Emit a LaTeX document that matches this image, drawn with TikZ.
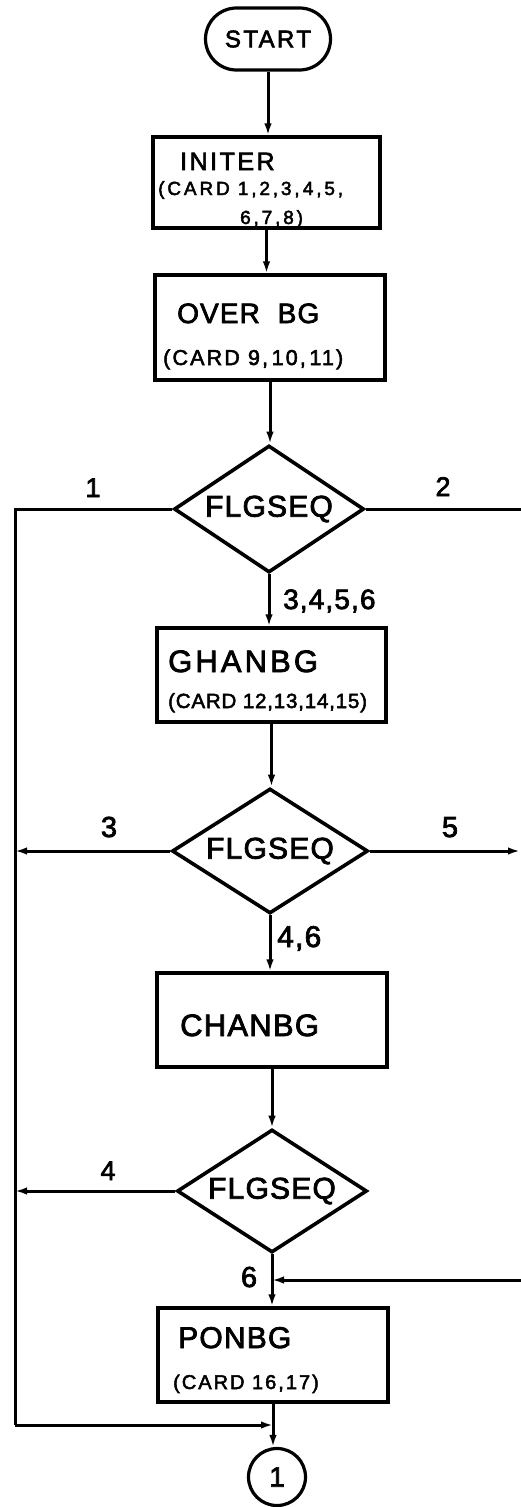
\documentclass[tikz,border=0pt]{standalone}
\usepackage{fontspec}
\setmainfont{Liberation Sans}
\newfontfamily\spc[LetterSpace=10,FakeBold=2.5]{Liberation Sans}
\newfontfamily\spd[LetterSpace=15,FakeBold=2.5]{Liberation Sans}
\newfontfamily\spb[LetterSpace=4,FakeBold=2.5]{Liberation Sans}
\usetikzlibrary{shapes.geometric,arrows.meta,calc}
\newcommand\myfs[1]{\fontsize{#1}{#1}\selectfont}
\begin{document}
\begin{tikzpicture}[x=1pt,y=-1pt,
  conn/.style={line width=3pt,-{Latex[length=12pt,width=7.5pt]}},
  plain/.style={line width=3pt},
  box/.style={draw,line width=3.3pt,inner sep=0pt,minimum width=230pt,minimum height=94pt},
  dia/.style={draw,diamond,aspect=1.5,inner sep=0pt,line width=3.6pt,font=\spb\myfs{30}},
  txt/.style={inner sep=0pt,anchor=base west},
  lbl/.style={inner sep=0pt,anchor=base,font=\spb\myfs{27}}]
\useasboundingbox (0,0) rectangle (520,1507);
% START
\node[draw,line width=3.2pt,rounded corners=31pt,minimum width=125pt,minimum height=62pt,inner sep=0pt,font=\spc\myfs{24}] (start) at (268,39) {START};
% INITER
\node[box,minimum width=227pt,minimum height=91pt] (initer) at (266.5,182.5) {};
\node[txt,font=\spc\myfs{25}] (initerA) at (180,170) {INITER};
\node[txt,font=\spd\myfs{19}] (initerB) at (158,195) {(CARD 1,2,3,\,4,5,};
\node[txt,font=\spd\myfs{19}] (initerC) at (240,224) {6,7,8)};
% OVER BG
\node[box,minimum height=105pt] (overbg) at (270,327.5) {};
\node[txt,font=\spb\myfs{28}] (overbgA) at (177,323) {OVER\ \ BG};
\node[txt,font=\spc\myfs{21.5}] (overbgB) at (163,365) {(CARD\ 9,\,10,\,11)};
% diamond 1
\node[dia,minimum width=190pt,minimum height=127pt] (d1) at (269,509) {FLGSEQ};
% GHANBG
\node[box,minimum width=229pt] (ghanbg) at (271.5,675) {};
\node[txt,font=\spc\myfs{31}] (ghanbgA) at (168,672) {GHANBG};
\node[txt,font=\spb\myfs{20.5}] (ghanbgB) at (168,708) {(CARD 12,13,14,15)};
% diamond 2
\node[dia,minimum width=196pt,minimum height=125pt] (d2) at (270,851) {FLGSEQ};
% CHANBG
\node[box] (chanbg) at (272,1020) {};
\node[txt,font=\spb\myfs{31}] (chanbgA) at (180,1036) {CHANBG};
% diamond 3
\node[dia,minimum width=190pt,minimum height=123pt] (d3) at (272,1191) {FLGSEQ};
% PONBG
\node[box] (ponbg) at (273,1355) {};
\node[txt,font=\spb\myfs{30}] (ponbgA) at (178,1348) {PONBG};
\node[txt,font=\spc\myfs{20}] (ponbgB) at (173,1389) {(CARD 16,17)};
% connector circle
\node[draw,circle,line width=3.2pt,minimum size=57pt,inner sep=0pt,font=\spb\myfs{28}] (c1) at (277,1477) {1};
% coordinates
\coordinate (L1) at (15,509);
\coordinate (Lb) at (15,1425);
\coordinate (R1) at (521,509);
\coordinate (R2) at (520,851);
\coordinate (R3) at (521,1280);
% connectors
\draw[conn] (start.south) -- (start.south |- initer.north);
\draw[conn] (initer.south) -- (initer.south |- overbg.north);
\draw[conn] (overbg.south) -- (overbg.south |- d1.north);
\draw[plain] (d1.west) -- (L1) -- (Lb);
\draw[plain] (d1.east) -- (R1);
\draw[conn] (d1.south) -- (d1.south |- ghanbg.north);
\draw[conn] (ghanbg.south) -- (ghanbg.south |- d2.north);
\draw[conn] (d2.west) -- (d2.west -| L1);
\draw[conn] (d2.east) -- (R2);
\draw[conn] (d2.south) -- (d2.south |- chanbg.north);
\draw[conn] (chanbg.south) -- (chanbg.south |- d3.north);
\draw[conn] (d3.west) -- (d3.west -| L1);
\draw[conn] (d3.south) -- (d3.south |- ponbg.north);
\draw[conn] (R3) -- (R3 -| d3.south);
\draw[conn] (Lb) -- (Lb -| ponbg.south);
\draw[conn] (ponbg.south) -- (ponbg.south |- c1.north);
% labels
\node[lbl] (l1) at (93,497) {1};
\node[lbl] (l2) at (443,496) {2};
\node[txt,font=\spb\myfs{28}] (l3456) at (283,609) {3,4,5,6};
\node[lbl,font=\spb\myfs{29}] (l3) at (109,837) {3};
\node[lbl,font=\spb\myfs{29}] (l5) at (450,837) {5};
\node[txt,font=\spb\myfs{30}] (l46) at (277,947) {4,6};
\node[lbl,font=\spb\myfs{27}] (l4) at (108,1180) {4};
\node[lbl,font=\spb\myfs{29}] (l6) at (249,1287) {6};
\end{tikzpicture}
\end{document}
